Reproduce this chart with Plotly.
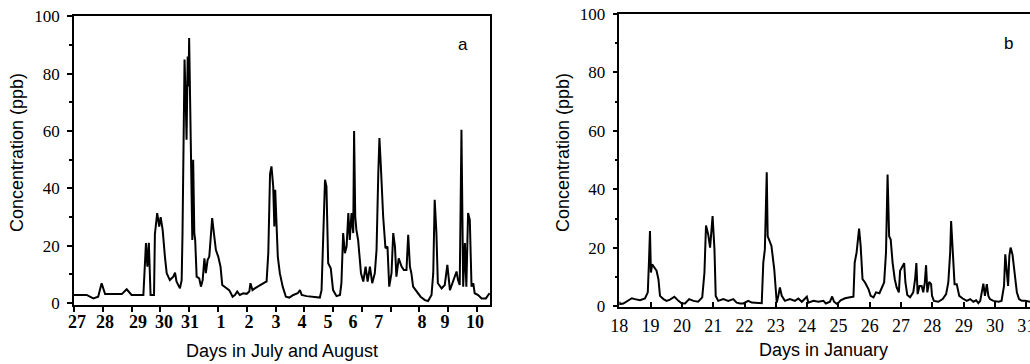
import plotly.graph_objects as go

# ---------------- Panel a : July / August ----------------
days_a = [0.00, 0.44, 0.67, 0.84, 0.96, 1.08, 1.66, 1.83, 2.00, 2.41,
          2.50, 2.55, 2.60, 2.66, 2.78, 2.81, 2.89, 2.96, 3.01, 3.08,
          3.16, 3.22, 3.33, 3.45, 3.51, 3.56, 3.68, 3.74, 3.77, 3.81,
          3.84, 3.88, 3.91, 3.95, 3.98, 4.00, 4.03, 4.05, 4.09, 4.11,
          4.14, 4.18, 4.21, 4.26, 4.35, 4.41, 4.47, 4.53, 4.58, 4.64,
          4.70, 4.75, 4.80, 4.86, 4.93, 5.01, 5.09, 5.15, 5.24, 5.32,
          5.39, 5.45, 5.51, 5.59, 5.67, 5.76, 5.88, 6.00, 6.09, 6.13,
          6.20, 6.28, 6.46, 6.63, 6.69, 6.75, 6.81, 6.86, 6.92, 6.96,
          6.99, 7.04, 7.08, 7.15, 7.25, 7.36, 7.48, 7.62, 7.77, 7.85,
          7.91, 8.08, 8.31, 8.54, 8.60, 8.66, 8.72, 8.77, 8.83, 8.92,
          9.00, 9.12, 9.24, 9.29, 9.35, 9.41, 9.47, 9.53, 9.58, 9.64,
          9.70, 9.73, 9.77, 9.81, 9.87, 9.97, 10.05, 10.13, 10.20, 10.28,
          10.36, 10.45, 10.51, 10.57, 10.61, 10.66, 10.74, 10.82, 10.89, 10.95,
          11.03, 11.09, 11.15, 11.20, 11.28, 11.38, 11.46, 11.55, 11.61, 11.67,
          11.72, 11.78, 11.90, 12.04, 12.19, 12.30, 12.42, 12.48, 12.53, 12.59,
          12.64, 12.77, 12.88, 12.97, 13.06, 13.17, 13.29, 13.34, 13.40, 13.46,
          13.52, 13.58, 13.63, 13.69, 13.75, 13.81, 13.87, 13.92, 14.04, 14.16,
          14.31, 14.39, 14.44]
conc_a = [2.8, 2.8, 1.6, 2.2, 6.9, 3.1, 3.1, 4.8, 2.8, 2.8,
          20.9, 12.7, 21.0, 2.8, 2.8, 24.0, 31.4, 26.7, 30.0, 25.5,
          16.0, 10.4, 8.0, 9.2, 10.6, 7.5, 5.1, 8.0, 24.4, 50.0,
          85.0, 71.0, 57.0, 86.0, 75.6, 92.5, 71.0, 53.5, 33.7, 22.0,
          50.0, 24.4, 22.0, 9.2, 8.6, 5.7, 8.0, 15.6, 10.4, 15.0,
          16.2, 22.0, 29.6, 24.4, 18.5, 16.2, 12.7, 6.3, 5.7, 5.1,
          4.5, 3.4, 2.2, 2.8, 4.0, 2.8, 3.4, 3.2, 4.0, 6.9,
          4.5, 5.1, 6.3, 7.2, 7.5, 17.5, 45.0, 47.7, 40.7, 26.7,
          39.5, 25.5, 16.2, 10.4, 5.7, 2.2, 1.9, 2.8, 3.4, 4.5,
          2.8, 2.4, 2.2, 1.9, 4.5, 24.4, 43.0, 40.7, 13.9, 12.1,
          4.5, 2.4, 2.8, 6.9, 24.4, 17.4, 19.7, 31.4, 22.0, 31.4,
          24.4, 60.0, 30.2, 25.5, 22.0, 10.4, 7.5, 12.7, 7.5, 12.7,
          6.9, 10.4, 18.5, 45.0, 57.6, 47.7, 30.2, 19.1, 19.7, 5.7,
          10.4, 24.4, 19.7, 9.2, 15.6, 12.7, 11.5, 11.5, 23.8, 12.7,
          10.4, 5.7, 4.0, 2.2, 1.0, 0.7, 2.8, 10.4, 36.0, 24.4,
          6.9, 5.1, 6.3, 13.3, 4.5, 8.0, 11.0, 8.0, 6.3, 60.5,
          5.7, 20.9, 5.7, 31.4, 29.0, 5.7, 6.9, 3.4, 2.8, 1.6,
          1.6, 2.8, 3.4]
tick_days_a = list(range(15))
label_pos_a = [0.10, 1.08, 2.22, 3.13, 4.03, 5.11, 6.08, 7.02, 7.92, 8.82,
               9.69, 10.59, 12.09, 12.89, 13.93]
label_txt_a = ["27", "28", "29", "30", "31", "1", "2", "3", "4", "5",
               "6", "7", "8", "9", "10"]

# ---------------- Panel b : January ----------------
days_b = [18.00, 18.02, 18.13, 18.29, 18.40, 18.50, 18.66, 18.82, 18.91, 18.95,
          18.98, 19.01, 19.05, 19.12, 19.19, 19.25, 19.30, 19.41, 19.51, 19.62,
          19.76, 19.89, 19.99, 20.10, 20.23, 20.37, 20.52, 20.65, 20.72, 20.77,
          20.84, 20.90, 20.94, 20.98, 21.04, 21.08, 21.16, 21.32, 21.48, 21.64,
          21.75, 21.86, 21.96, 22.12, 22.23, 22.55, 22.60, 22.65, 22.71, 22.74,
          22.78, 22.86, 22.95, 23.03, 23.08, 23.13, 23.19, 23.29, 23.45, 23.61,
          23.72, 23.83, 23.99, 24.04, 24.20, 24.36, 24.52, 24.60, 24.73, 24.80,
          24.86, 24.96, 25.07, 25.21, 25.37, 25.48, 25.52, 25.58, 25.66, 25.71,
          25.77, 25.85, 25.96, 26.03, 26.12, 26.20, 26.31, 26.38, 26.46, 26.52,
          26.57, 26.62, 26.67, 26.73, 26.80, 26.86, 26.93, 26.97, 27.04, 27.10,
          27.14, 27.20, 27.29, 27.39, 27.45, 27.49, 27.53, 27.59, 27.66, 27.71,
          27.76, 27.80, 27.84, 27.90, 27.96, 27.99, 28.05, 28.19, 28.33, 28.44,
          28.51, 28.57, 28.60, 28.63, 28.67, 28.71, 28.78, 28.86, 28.97, 29.10,
          29.21, 29.31, 29.40, 29.47, 29.53, 29.60, 29.63, 29.68, 29.74, 29.79,
          29.84, 29.95, 30.11, 30.21, 30.29, 30.33, 30.37, 30.42, 30.46, 30.50,
          30.56, 30.62, 30.70, 30.77, 30.86, 30.96, 31.07, 31.12]
conc_b = [1.6, 0.8, 1.0, 1.9, 2.8, 2.5, 2.1, 2.7, 4.8, 16.0,
          25.8, 11.6, 14.4, 13.3, 12.2, 9.3, 3.6, 2.5, 1.9, 2.3,
          3.3, 1.9, 1.1, 1.0, 2.5, 1.9, 1.6, 3.1, 11.6, 27.7,
          24.6, 20.1, 26.3, 30.9, 19.5, 3.6, 1.9, 2.5, 1.9, 2.5,
          1.3, 1.0, 1.0, 1.9, 1.3, 1.1, 15.0, 19.5, 45.9, 24.0,
          22.9, 20.7, 12.7, 1.3, 3.6, 6.5, 3.6, 1.9, 2.5, 1.9,
          2.7, 1.6, 3.3, 1.3, 1.9, 1.6, 1.9, 1.0, 1.6, 3.4,
          1.6, 0.8, 2.1, 2.8, 3.1, 3.3, 15.0, 18.4, 26.6, 20.7,
          9.3, 8.2, 5.9, 3.6, 3.1, 4.8, 4.5, 6.5, 8.2, 18.4,
          45.1, 24.0, 22.9, 15.0, 9.3, 6.5, 4.8, 12.2, 13.9, 14.8,
          8.2, 3.9, 3.1, 4.8, 9.3, 14.8, 4.2, 7.0, 7.0, 4.8,
          8.2, 14.1, 4.8, 8.4, 7.6, 3.6, 1.9, 1.6, 2.5, 4.2,
          8.2, 18.4, 29.2, 22.9, 12.7, 7.6, 7.6, 3.6, 2.7, 1.9,
          2.5, 1.6, 2.1, 1.1, 1.9, 5.3, 7.8, 3.6, 7.6, 3.6,
          2.5, 1.9, 1.6, 1.9, 7.0, 17.8, 13.3, 7.0, 17.3, 20.1,
          17.8, 12.7, 4.8, 2.5, 1.9, 1.9, 1.6, 1.6]
tick_days_b = list(range(18, 32))
label_txt_b = [str(d) for d in tick_days_b]

y_ticks = [0, 20, 40, 60, 80, 100]
y_minor = [10, 30, 50, 70, 90]

SERIF = "Liberation Serif"
SANS = "Liberation Sans"

fig = go.Figure()
fig.add_trace(go.Scatter(x=days_a, y=conc_a, mode="lines",
                         line=dict(color="black", width=2),
                         xaxis="x", yaxis="y", hoverinfo="skip"))
fig.add_trace(go.Scatter(x=days_b, y=conc_b, mode="lines",
                         line=dict(color="black", width=2),
                         xaxis="x2", yaxis="y2", hoverinfo="skip"))

axis_common = dict(showgrid=False, zeroline=False, showline=True,
                   linecolor="black", linewidth=1.5)

fig.update_layout(
    width=1030, height=364,
    margin=dict(l=74, r=0, t=14, b=57, autoexpand=False),
    paper_bgcolor="white", plot_bgcolor="white",
    showlegend=False,
    xaxis=dict(**axis_common, domain=[0, 0.4351], range=[0, 14.45], anchor="y",
               mirror=True, tickmode="array", tickvals=label_pos_a,
               ticktext=label_txt_a, ticks="", ticklabelstandoff=0,
               tickfont=dict(family=SERIF, size=18, color="black", weight="bold"),
               minor=dict(tickmode="array", tickvals=tick_days_a, ticks="outside",
                          ticklen=5, tickwidth=1.5, tickcolor="black")),
    yaxis=dict(**axis_common, domain=[0.0068, 0.9915], range=[-0.7, 100], anchor="x",
               mirror=True, tickmode="array", tickvals=y_ticks, ticks="outside",
               ticklen=5, tickwidth=1.5, tickcolor="black", ticklabelstandoff=4,
               tickfont=dict(family=SERIF, size=17, color="black"),
               minor=dict(tickmode="array", tickvals=y_minor, ticks="outside",
                          ticklen=3, tickwidth=1.5, tickcolor="black")),
    xaxis2=dict(**axis_common, domain=[0.5704, 1], range=[18, 31.12], anchor="y2",
                mirror=True, tickmode="array", tickvals=tick_days_b,
                ticktext=label_txt_b, ticks="inside", ticklen=5, tickwidth=1.5,
                tickcolor="black", ticklabelstandoff=2, ticklabeloverflow="allow",
                tickfont=dict(family=SERIF, size=18, color="black")),
    yaxis2=dict(**axis_common, domain=[0, 1], range=[-0.2, 100], anchor="x2",
                mirror=False, tickmode="array", tickvals=y_ticks, ticks="outside",
                ticklen=5, tickwidth=1.5, tickcolor="black", ticklabelstandoff=4,
                tickfont=dict(family=SERIF, size=17, color="black"),
                minor=dict(tickmode="array", tickvals=y_minor, ticks="outside",
                           ticklen=3, tickwidth=1.5, tickcolor="black")),
)

ann_font = dict(family=SANS, size=18, color="black")
annotations = [
    dict(text="Concentration (ppb)", x=-0.0596, y=0.5256, textangle=-90),
    dict(text="Concentration (ppb)", x=0.5115, y=0.529, textangle=-90),
    dict(text="Days in July and August", x=0.2171, y=-0.1502),
    dict(text="Days in January", x=0.7835, y=-0.1468),
]
for a in annotations:
    fig.add_annotation(xref="paper", yref="paper", showarrow=False,
                       xanchor="center", yanchor="middle", font=ann_font, **a)
fig.add_annotation(text="a", xref="paper", yref="paper", x=0.4069, y=0.8942,
                   showarrow=False, xanchor="center", yanchor="middle",
                   font=dict(family=SANS, size=17, color="black"))
fig.add_annotation(text="b", xref="paper", yref="paper", x=0.977, y=0.901,
                   showarrow=False, xanchor="center", yanchor="middle",
                   font=dict(family=SANS, size=17, color="black"))

fig.write_html("out.html")
